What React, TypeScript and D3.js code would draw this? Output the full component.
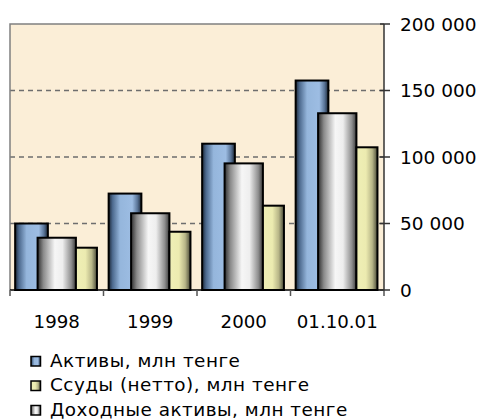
import React, { useRef, useEffect } from 'react';
import * as d3 from 'd3';

const categories = ['1998', '1999', '2000', '01.10.01'];
const assets = [50000, 72500, 110000, 157500];
const incomeAssets = [39300, 57700, 95200, 132900];
const loans = [31800, 43800, 63400, 107300];
const yTicks = [0, 50000, 100000, 150000, 200000];

const legendItems = [
    { label: 'Активы, млн тенге', grad: 'gBlue' },
    { label: 'Ссуды (нетто), млн тенге', grad: 'gYellow' },
    { label: 'Доходные активы, млн тенге', grad: 'gWhite' },
];

const App: React.FC = () => {
    const svgRef = useRef<SVGSVGElement>(null);

    useEffect(() => {
        if (!svgRef.current) return;
        const svg = d3.select(svgRef.current);
        svg.selectAll('*').remove();

        const left = 10, right = 384, top = 24, bottom = 290;
        const font = 'DejaVu Sans, Verdana, sans-serif';

        const x = d3.scaleBand().domain(categories).range([left, right]).padding(0);
        const y = d3.scaleLinear().domain([0, 200000]).range([bottom, top]);

        const defs = svg.append('defs');
        const addGrad = (id: string, stops: [number, string][]) => {
            const g = defs.append('linearGradient').attr('id', id)
                .attr('x1', '0%').attr('x2', '100%').attr('y1', '0%').attr('y2', '0%');
            stops.forEach(([o, c]) => g.append('stop').attr('offset', `${o}%`).attr('stop-color', c));
        };
        addGrad('gBlue', [[0, '#1c2838'], [12, '#4d6a8e'], [35, '#95b6dc'], [72, '#9dbde3'], [88, '#5a7598'], [100, '#1c2838']]);
        addGrad('gWhite', [[0, '#2e2e2e'], [15, '#8a8a8a'], [45, '#f6f6f6'], [65, '#eeeeee'], [88, '#8e8e8e'], [100, '#3a3a3a']]);
        addGrad('gYellow', [[0, '#efefb6'], [45, '#ecebb0'], [75, '#b8b688'], [100, '#4a4a38']]);

        // plot background
        svg.append('rect')
            .attr('x', left).attr('y', top)
            .attr('width', right - left).attr('height', bottom - top)
            .attr('fill', '#fbeed7');

        // grid
        svg.append('g').selectAll('line')
            .data(yTicks.filter(d => d > 0 && d < 200000))
            .enter().append('line')
            .attr('x1', left).attr('x2', right)
            .attr('y1', d => y(d)).attr('y2', d => y(d))
            .attr('stroke', '#6e6e6e').attr('stroke-width', 1.5)
            .attr('stroke-dasharray', '5,4');

        // border top/left
        svg.append('path')
            .attr('d', `M${left},${bottom}V${top}H${right}`)
            .attr('fill', 'none').attr('stroke', '#808080').attr('stroke-width', 1.5);

        // bars
        const series = [
            { values: assets, grad: 'gBlue', off: 0.055, w: 0.35 },
            { values: incomeAssets, grad: 'gWhite', off: 0.295, w: 0.41 },
            { values: loans, grad: 'gYellow', off: 0.705, w: 0.225 },
        ];
        const bw = x.bandwidth();
        series.forEach(s => {
            svg.append('g').selectAll('rect')
                .data(categories)
                .enter().append('rect')
                .attr('x', (c) => (x(c) as number) + s.off * bw)
                .attr('width', s.w * bw)
                .attr('y', (_c, i) => y(s.values[i]))
                .attr('height', (_c, i) => bottom - y(s.values[i]))
                .attr('fill', `url(#${s.grad})`)
                .attr('stroke', '#000').attr('stroke-width', 2);
        });

        // x axis
        const xAxis = svg.append('g');
        xAxis.append('line')
            .attr('x1', left).attr('x2', right)
            .attr('y1', bottom).attr('y2', bottom)
            .attr('stroke', '#000').attr('stroke-width', 1.5);
        xAxis.selectAll('.tk')
            .data([...categories.map(c => x(c) as number), right])
            .enter().append('line')
            .attr('x1', d => d).attr('x2', d => d)
            .attr('y1', bottom).attr('y2', bottom + 6)
            .attr('stroke', '#555').attr('stroke-width', 1.5);
        xAxis.selectAll('text')
            .data(categories)
            .enter().append('text')
            .attr('x', c => (x(c) as number) + bw / 2)
            .attr('y', 328)
            .attr('text-anchor', 'middle')
            .attr('font-family', font).attr('font-size', 18.2)
            .text(c => c);

        // right y axis
        const yAxis = svg.append('g');
        yAxis.append('line')
            .attr('x1', right).attr('x2', right)
            .attr('y1', top).attr('y2', bottom)
            .attr('stroke', '#333').attr('stroke-width', 1.5);
        yAxis.selectAll('.tk')
            .data(yTicks)
            .enter().append('line')
            .attr('x1', right - 4).attr('x2', right + 6)
            .attr('y1', d => y(d)).attr('y2', d => y(d))
            .attr('stroke', '#333').attr('stroke-width', 1.5);
        yAxis.selectAll('text')
            .data(yTicks)
            .enter().append('text')
            .attr('x', 400)
            .attr('y', d => y(d) + 6.7)
            .attr('font-family', font).attr('font-size', 18.5)
            .text(d => d3.format(',')(d).replace(/,/g, ' '));

        // legend
        const lg = svg.append('g');
        legendItems.forEach((it, i) => {
            const base = 366.5 + i * 24.5;
            lg.append('rect')
                .attr('x', 31).attr('y', base - 10)
                .attr('width', 9.5).attr('height', 9.5)
                .attr('fill', `url(#${it.grad})`)
                .attr('stroke', '#000').attr('stroke-width', 1.5);
            lg.append('text')
                .attr('x', 50).attr('y', base)
                .attr('font-family', font).attr('font-size', 18.4)
                .attr('letter-spacing', 0.5)
                .text(it.label);
        });
    }, []);

    return (
        <svg
            ref={svgRef}
            width={481}
            height={419}
            style={{ position: 'absolute', left: 0, top: 0, background: '#fff' }}
        />
    );
};

export default App;
